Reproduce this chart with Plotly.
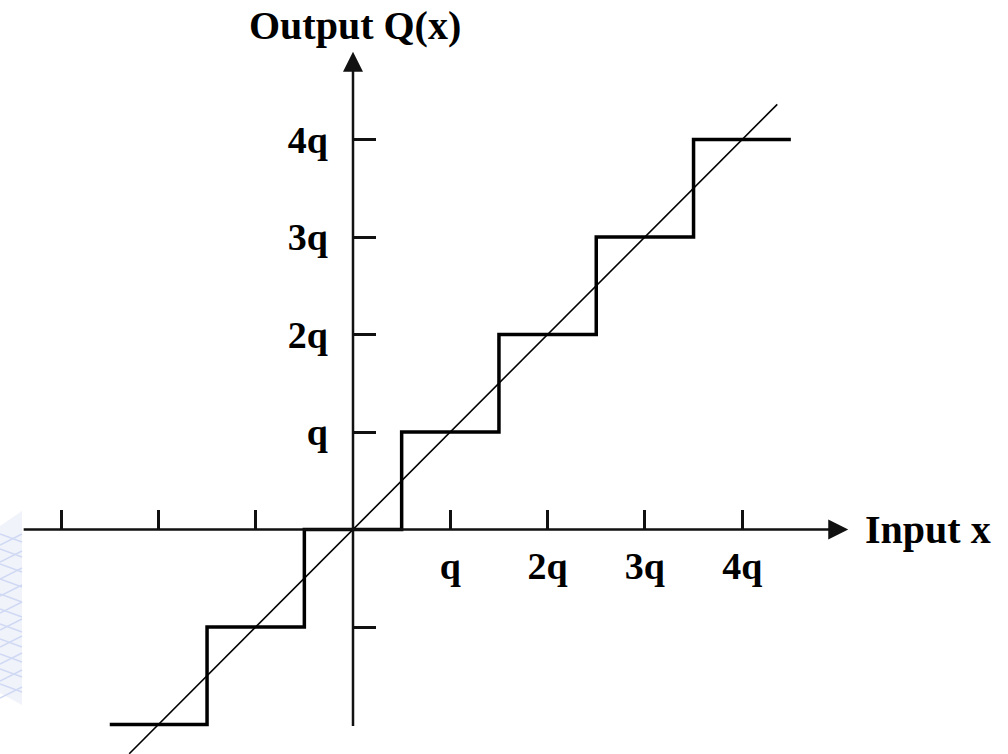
import plotly.graph_objects as go

# --- data (in units of q) ---
step_x = [-2.5, -1.5, -0.5, 0.5, 1.5, 2.5, 3.5, 4.5]
step_y = [-2, -1, 0, 1, 2, 3, 4, 4]
ideal_x = [-2.3, 4.36]
ideal_y = [-2.3, 4.36]
x_tick_vals = [-3, -2, -1, 1, 2, 3, 4]
x_tick_text = ["", "", "", "q", "2q", "3q", "4q"]
y_tick_vals = [-1, 1, 2, 3, 4]
y_tick_text = ["", "q", "2q", "3q", "4q"]
x_axis_span = [-3.4, 5.09]
y_axis_span = [-2.03, 4.9]
x_title = "Input x"
y_title = "Output Q(x)"

W, H = 1008, 754
ox, oy = 353.0, 529.5      # pixel position of origin
sx, sy = 97.3, 97.5        # pixels per q
x_range = [-ox / sx, (W - ox) / sx]
y_range = [-(H - oy) / sy, oy / sy]

FONT = "Liberation Serif"
INK = "#111111"

fig = go.Figure()

# ideal line y = x
fig.add_trace(go.Scatter(x=ideal_x, y=ideal_y, mode="lines",
                         line=dict(color="black", width=1.6),
                         hoverinfo="skip", showlegend=False))
# quantizer staircase
fig.add_trace(go.Scatter(x=step_x, y=step_y, mode="lines", line_shape="hv",
                         line=dict(color="black", width=3.5),
                         hoverinfo="skip", showlegend=False))

# axis lines with arrow heads
fig.add_annotation(x=x_axis_span[1], y=0, ax=x_axis_span[0], ay=0,
                   xref="x", yref="y", axref="x", ayref="y", text="",
                   showarrow=True, arrowhead=2, arrowsize=1.6, arrowwidth=2.5,
                   arrowcolor=INK)
fig.add_annotation(x=0, y=y_axis_span[1], ax=0, ay=y_axis_span[0],
                   xref="x", yref="y", axref="x", ayref="y", text="",
                   showarrow=True, arrowhead=2, arrowsize=1.6, arrowwidth=2.5,
                   arrowcolor=INK)

# axis titles
fig.add_annotation(x=0.02, y=5.17, xref="x", yref="y", text=y_title,
                   showarrow=False, xanchor="center", yanchor="middle",
                   font=dict(family=FONT, size=40, color="black", weight="bold"))
fig.add_annotation(x=5.24, y=0.0, xref="x", yref="y", text=x_title,
                   showarrow=False, xanchor="left", yanchor="middle",
                   font=dict(family=FONT, size=40, color="black", weight="bold"))

# faint background watermark (decorative grid fragment at left edge)
def px(xp, yp):
    return xp / W, 1 - yp / H

shapes = []
x0p, y0p = px(0, 526)
x1p, y1p = px(22, 511)
x2p, y2p = px(22, 705)
x3p, y3p = px(0, 693)
shapes.append(dict(type="path", xref="paper", yref="paper", layer="below",
                   path=f"M {x0p},{y0p} L {x1p},{y1p} L {x2p},{y2p} L {x3p},{y3p} Z",
                   fillcolor="#f1f3fb", line=dict(width=0)))
for c in range(534, 692, 15):
    a, b = px(0, c)
    d, e = px(22, c + 8)
    shapes.append(dict(type="line", xref="paper", yref="paper", layer="below",
                       x0=a, y0=b, x1=d, y1=e,
                       line=dict(color="#d0d9f3", width=1.5)))
for c in range(545, 700, 17):
    a, b = px(0, c)
    d, e = px(22, c - 11)
    shapes.append(dict(type="line", xref="paper", yref="paper", layer="below",
                       x0=a, y0=b, x1=d, y1=e,
                       line=dict(color="#d0d9f3", width=1.5)))

tick_font = dict(family=FONT, size=38, color="black", weight="bold")
fig.update_layout(
    width=W, height=H,
    margin=dict(l=0, r=0, t=0, b=0),
    paper_bgcolor="white", plot_bgcolor="white",
    showlegend=False,
    shapes=shapes,
    xaxis=dict(range=x_range, showgrid=False, zeroline=False, showline=False,
               tickmode="array", tickvals=x_tick_vals, ticktext=x_tick_text,
               ticks="inside", ticklen=20, tickwidth=2.5, tickcolor=INK,
               tickfont=tick_font, anchor="free", position=1 - oy / H,
               ticklabelstandoff=10),
    yaxis=dict(range=y_range, showgrid=False, zeroline=False, showline=False,
               tickmode="array", tickvals=y_tick_vals, ticktext=y_tick_text,
               ticks="inside", ticklen=22, tickwidth=2.5, tickcolor=INK,
               tickfont=tick_font, anchor="free", position=ox / W,
               ticklabelstandoff=25),
)

fig.write_html("out.html", config={"displayModeBar": False},
               post_script="document.body.style.margin='0';document.body.style.overflow='hidden';")
